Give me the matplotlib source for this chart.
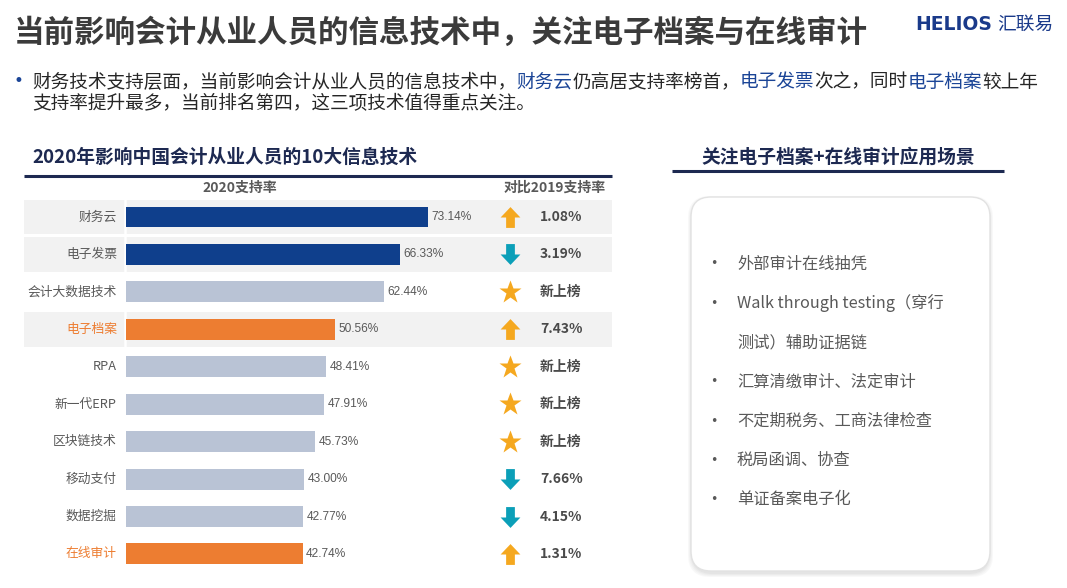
import matplotlib
matplotlib.use("Agg")
import matplotlib.pyplot as plt
from matplotlib.patches import FancyBboxPatch
from matplotlib.path import Path
import numpy as np

plt.rcParams['font.family'] = ['Noto Sans CJK SC', 'DejaVu Sans']

# ---------------- data ----------------
categories = ['财务云', '电子发票', '会计大数据技术', '电子档案', 'RPA',
              '新一代ERP', '区块链技术', '移动支付', '数据挖掘', '在线审计']
support_2020 = [73.14, 66.33, 62.44, 50.56, 48.41, 47.91, 45.73, 43.00, 42.77, 42.74]
change_dir = ['up', 'down', 'new', 'up', 'new', 'new', 'new', 'down', 'down', 'up']
change_text = ['1.08%', '3.19%', '新上榜', '7.43%', '新上榜', '新上榜', '新上榜', '7.66%', '4.15%', '1.31%']
bar_group = ['top', 'top', 'other', 'focus', 'other', 'other', 'other', 'other', 'other', 'focus']
shaded_rows = [True, True, False, True, False, False, False, False, False, False]
scenarios = ['外部审计在线抽凭', 'Walk through testing（穿行\n测试）辅助证据链', '汇算清缴审计、法定审计',
             '不定期税务、工商法律检查', '税局函调、协查', '单证备案电子化']

title = '当前影响会计从业人员的信息技术中，关注电子档案与在线审计'
para_line1 = [('财务技术支持层面，当前影响会计从业人员的信息技术中，', False), ('财务云', True),
              ('仍高居支持率榜首，', False), ('电子发票', True), ('次之，同时', False),
              ('电子档案', True), ('较上年', False)]
para_line2 = '支持率提升最多，当前排名第四，这三项技术值得重点关注。'
left_title = '2020年影响中国会计从业人员的10大信息技术'
right_title = '关注电子档案+在线审计应用场景'

# ---------------- styles ----------------
W, H = 1067, 588
NAVY = '#1d2951'
BLUE = '#1b4597'
DARK = '#3b3b3b'
GREY = '#595959'
bar_colors = {'top': '#0f3f8c', 'other': '#b9c3d5', 'focus': '#ed7d31'}
UP_C, DOWN_C, STAR_C = '#f5a81f', '#0b9fb8', '#f5a81f'

fig = plt.figure(figsize=(W / 100, H / 100), dpi=100)
fig.patch.set_facecolor('white')

# pixel overlay axes
ov = fig.add_axes([0, 0, 1, 1])
ov.set_xlim(0, W)
ov.set_ylim(H, 0)
ov.axis('off')

# title
ov.text(14, 33, title, fontsize=22, fontweight='bold', color=DARK, va='center', ha='left')
# logo
ov.text(915, 24, 'HELIOS', fontsize=13.5, fontweight='bold', color='#1a3a8a', va='center',
        ha='left', family=['DejaVu Sans'])
ov.text(997, 24, '汇联易', fontsize=13.5, color='#1a3a8a', va='center', ha='left')

# paragraph with coloured parts
ov.text(18, 81, '•', fontsize=12, color=BLUE, va='center', ha='center', family=['DejaVu Sans'])
fig.canvas.draw()
renderer = fig.canvas.get_renderer()
x = 32
inv = ov.transData.inverted()
for seg, hl in para_line1:
    t = ov.text(x, 82, seg, fontsize=13.45, color=BLUE if hl else '#262626', va='center', ha='left')
    bb = t.get_window_extent(renderer=renderer)
    x = inv.transform((bb.x1, bb.y0))[0]
ov.text(32, 104, para_line2, fontsize=13.45, color='#262626', va='center', ha='left')

# left section title and underline
ov.text(32, 157, left_title, fontsize=13.5, fontweight='bold', color=NAVY, va='center', ha='left')
ov.plot([24, 612], [176, 176], color=NAVY, lw=2.2, solid_capstyle='butt')
ov.text(240, 188, '2020支持率', fontsize=10, fontweight='bold', color=GREY, va='center', ha='center')
ov.text(555, 188, '对比2019支持率', fontsize=10, fontweight='bold', color=GREY, va='center', ha='center')

# right section title and underline
ov.text(838, 157, right_title, fontsize=13.5, fontweight='bold', color=NAVY, va='center', ha='center')
ov.plot([672, 1004], [171, 171], color=NAVY, lw=2.2, solid_capstyle='butt')

# rounded box with soft shadow
for i, a in enumerate([0.05, 0.05, 0.06, 0.07]):
    d = 4 - i
    ov.add_patch(FancyBboxPatch((691 - d + 1, 197 - d + 3), 299 + 2 * d - 2, 375 + 2 * d - 2,
                                boxstyle='round,pad=0,rounding_size=22', fc='#888888',
                                ec='none', alpha=a, zorder=1))
ov.add_patch(FancyBboxPatch((691, 197), 299, 374, boxstyle='round,pad=0,rounding_size=20',
                            fc='white', ec='#e2e2e2', lw=1, zorder=2))
yy = 264
line_step = 39.3
for s in scenarios:
    lines = s.split('\n')
    ov.text(714, yy, '•', fontsize=9, color=GREY, va='center', ha='center', zorder=3,
            family=['DejaVu Sans'])
    for ln in lines:
        ov.text(737, yy, ln, fontsize=11.7, color=GREY, va='center', ha='left', zorder=3)
        yy += line_step

# ---------------- bar axes ----------------
px_per_unit = 4.13
left_px, right_px = 24, 612
zero_px = 126
row_h = 37.44
top_px = 217 - row_h / 2
n = len(categories)
ax = fig.add_axes([left_px / W, 1 - (top_px + n * row_h) / H,
                   (right_px - left_px) / W, n * row_h / H])
ax.set_facecolor('none')
ax.set_xlim((left_px - zero_px) / px_per_unit, (right_px - zero_px) / px_per_unit)
ax.set_ylim(n - 0.5, -0.5)
ax.axis('off')
xmin, xmax = ax.get_xlim()
yidx = np.arange(n)

band_y = [i for i in yidx if shaded_rows[i]]
ax.barh(band_y, [xmax - xmin] * len(band_y), left=xmin, height=0.93, color='#f2f2f2', zorder=0)
ax.vlines(-0.15, -0.5, n - 0.5, color='white', lw=1.8, zorder=1)
ax.barh(yidx, support_2020, height=0.56, color=[bar_colors[g] for g in bar_group], zorder=2)

for i, (c, v) in enumerate(zip(categories, support_2020)):
    col = '#ed7d31' if bar_group[i] == 'focus' else GREY
    ax.text(-2.2, i, c, fontsize=9.2, color=col, va='center', ha='right')
    ax.text(v + 0.9, i, f'{v:.2f}%', fontsize=8.6, color=GREY, va='center', ha='left',
            family=['Liberation Sans Narrow', 'Liberation Sans', 'DejaVu Sans'])

up_path = Path([(-0.42, -1), (0.42, -1), (0.42, 0.0), (0.95, 0.0), (0, 1), (-0.95, 0.0),
                (-0.42, 0.0), (-0.42, -1)], closed=False)
down_path = Path([(-0.42, 1), (0.42, 1), (0.42, 0.0), (0.95, 0.0), (0, -1), (-0.95, 0.0),
                  (-0.42, 0.0), (-0.42, 1)], closed=False)
arrow_x = (510 - zero_px) / px_per_unit
text_x = (540 - zero_px) / px_per_unit
for i, (d, t) in enumerate(zip(change_dir, change_text)):
    if d == 'up':
        ax.plot(arrow_x, i, marker=up_path, ms=15, color=UP_C, mec='none')
    elif d == 'down':
        ax.plot(arrow_x, i, marker=down_path, ms=15, color=DOWN_C, mec='none')
    else:
        ax.plot(arrow_x, i, marker='*', ms=17, color=STAR_C, mec='none')
    ax.text(text_x, i, t, fontsize=10, fontweight='bold', color='#4a4a4a', va='center', ha='left')

fig.savefig('out.png', dpi=100, facecolor='white')
